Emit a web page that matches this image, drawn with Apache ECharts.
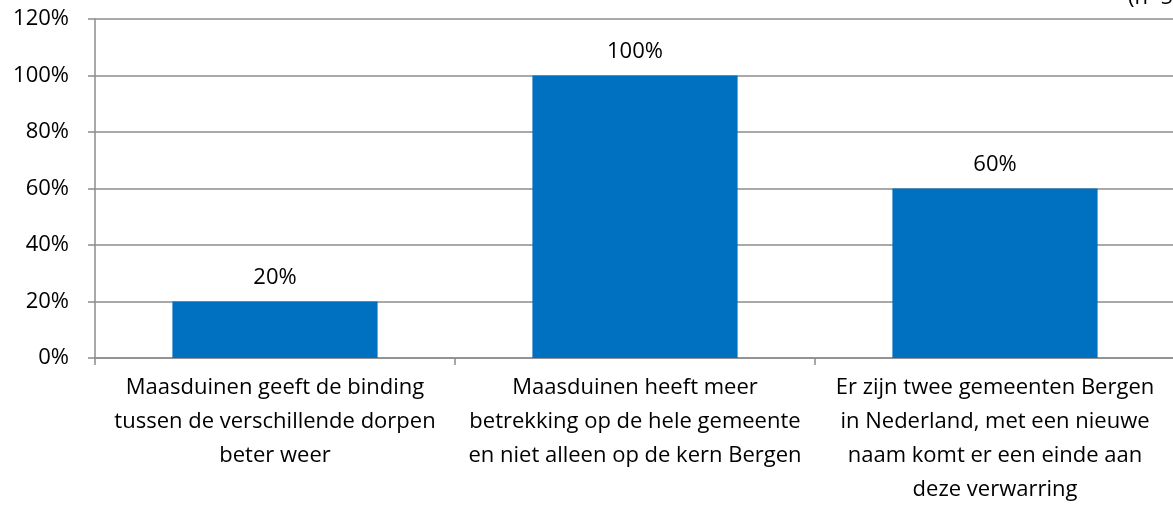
<!DOCTYPE html>
<html>
<head>
<meta charset="utf-8">
<script src="https://cdn.jsdelivr.net/npm/echarts@6/dist/echarts.min.js"></script>
<style>
html,body{margin:0;padding:0;background:#fff;}
#main{width:1173px;height:505px;}
</style>
</head>
<body>
<div id="main"></div>
<script>
// categorieen
var categories = [
	'Maasduinen geeft de binding\ntussen de verschillende dorpen\nbeter weer',
	'Maasduinen heeft meer\nbetrekking op de hele gemeente\nen niet alleen op de kern Bergen',
	'Er zijn twee gemeenten Bergen\nin Nederland, met een nieuwe\nnaam komt er een einde aan\ndeze verwarring'
];
// percentages
var values = [20, 100, 60];

var chart = echarts.init(document.getElementById('main'));
var fontFam = '"Open Sans", "Liberation Sans", sans-serif';
var option = {
	animation: false,
	grid: {
		left: 95,
		right: -2,
		top: 19,
		bottom: 147,
		containLabel: false,
		outerBoundsMode: 'none'
	},
	xAxis: {
		type: 'category',
		data: categories,
		axisLine: { lineStyle: { color: '#8c8c8c', width: 1.5 } },
		axisTick: { show: true, length: 7, lineStyle: { color: '#8c8c8c', width: 1.5 } },
		axisLabel: {
			interval: 0,
			color: '#000',
			fontSize: 22,
			fontFamily: fontFam,
			lineHeight: 34,
			margin: 13
		}
	},
	yAxis: {
		type: 'value',
		min: 0,
		max: 120,
		interval: 20,
		axisLine: { show: true, lineStyle: { color: '#8c8c8c', width: 1.5 } },
		axisTick: { show: true, length: 7, lineStyle: { color: '#8c8c8c', width: 1.5 } },
		splitLine: { show: true, lineStyle: { color: '#8c8c8c', width: 1.5 } },
		axisLabel: {
			formatter: '{value}%',
			color: '#000',
			fontSize: 22,
			fontFamily: fontFam,
			margin: 26
		}
	},
	series: [{
		type: 'bar',
		data: values,
		barWidth: '57%',
		itemStyle: { color: '#0070C0' },
		label: {
			show: true,
			position: 'top',
			distance: 13,
			formatter: '{c}%',
			color: '#000',
			fontSize: 22,
			fontFamily: fontFam
		}
	}],
	graphic: [{
		type: 'text',
		left: 1128,
		top: -13,
		style: {
			text: '(n=5)',
			fill: '#000',
			fontSize: 22,
			fontFamily: fontFam
		}
	}]
};
chart.setOption(option);
</script>
</body>
</html>
